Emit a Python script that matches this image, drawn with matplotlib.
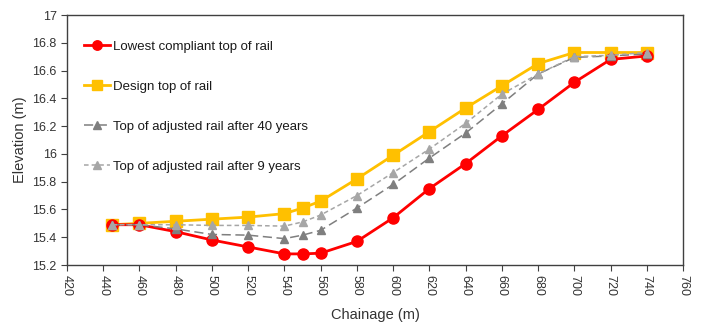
import matplotlib.pyplot as plt
import matplotlib.ticker as ticker

plt.rcParams['font.family'] = ['Liberation Sans', 'DejaVu Sans']

# Chainage stations (m)
chainage = [445, 460, 480, 500, 520, 540, 550, 560, 580, 600, 620, 640, 660, 680, 700, 720, 740]

# Elevations (m)
lowest_compliant = [15.49, 15.49, 15.44, 15.38, 15.33, 15.28, 15.28, 15.285, 15.37, 15.54, 15.75,
                    15.93, 16.13, 16.32, 16.515, 16.68, 16.705]
design_top = [15.49, 15.50, 15.515, 15.53, 15.545, 15.57, 15.61, 15.66, 15.82, 15.99, 16.16,
              16.33, 16.49, 16.65, 16.73, 16.73, 16.73]
adjusted_40 = [15.49, 15.49, 15.46, 15.42, 15.415, 15.39, 15.415, 15.45, 15.61, 15.78, 15.97,
               16.15, 16.36, 16.575, 16.695, 16.705, 16.72]
adjusted_9 = [15.49, 15.49, 15.49, 15.485, 15.485, 15.48, 15.51, 15.56, 15.70, 15.865, 16.035,
              16.22, 16.43, 16.575, 16.70, 16.71, 16.73]

labels = ['Lowest compliant top of rail', 'Design top of rail',
          'Top of adjusted rail after 40 years', 'Top of adjusted rail after 9 years']

fig = plt.figure(figsize=(7.03, 3.29), dpi=100)
ax = fig.add_axes([0.0953, 0.1945, 0.8763, 0.7599])

ax.plot(chainage, lowest_compliant, color='#FF0000', lw=2, marker='o', ms=8, label=labels[0], zorder=4)
ax.plot(chainage, design_top, color='#FFC000', lw=2, marker='s', ms=8, label=labels[1], zorder=3)
ax.plot(chainage, adjusted_40, color='#7F7F7F', lw=1.1, ls=(0, (6, 3)), marker='^', ms=6,
        label=labels[2], zorder=5)
ax.plot(chainage, adjusted_9, color='#A6A6A6', lw=1.1, ls=(0, (3, 2)), marker='^', ms=6,
        label=labels[3], zorder=5)

ax.set_xlim(420, 760)
ax.set_ylim(15.2, 17)
ax.xaxis.set_major_locator(ticker.MultipleLocator(20))
ax.yaxis.set_major_locator(ticker.MultipleLocator(0.2))
ax.yaxis.set_major_formatter(ticker.FuncFormatter(lambda v, p: ('%.1f' % v).rstrip('0').rstrip('.')))

for label in ax.get_xticklabels():
    label.set_rotation(-90)
ax.tick_params(axis='both', labelsize=9, direction='out', length=4, color='#404040', labelcolor='#333333')
ax.tick_params(axis='x', pad=3)
for s in ax.spines.values():
    s.set_color('#404040')
    s.set_linewidth(1.0)

ax.set_xlabel('Chainage (m)', fontsize=10.5, color='#333333', labelpad=9)
ax.set_ylabel('Elevation (m)', fontsize=10.5, color='#333333', labelpad=4)

leg = ax.legend(loc='upper left', frameon=False, fontsize=9.5, handlelength=2.0, handletextpad=0.2,
                labelspacing=2.1, borderaxespad=0.3, bbox_to_anchor=(0.012, 0.935), markerscale=0.85)
for t in leg.get_texts():
    t.set_color('#1a1a1a')

fig.savefig('out.png', dpi=100)
